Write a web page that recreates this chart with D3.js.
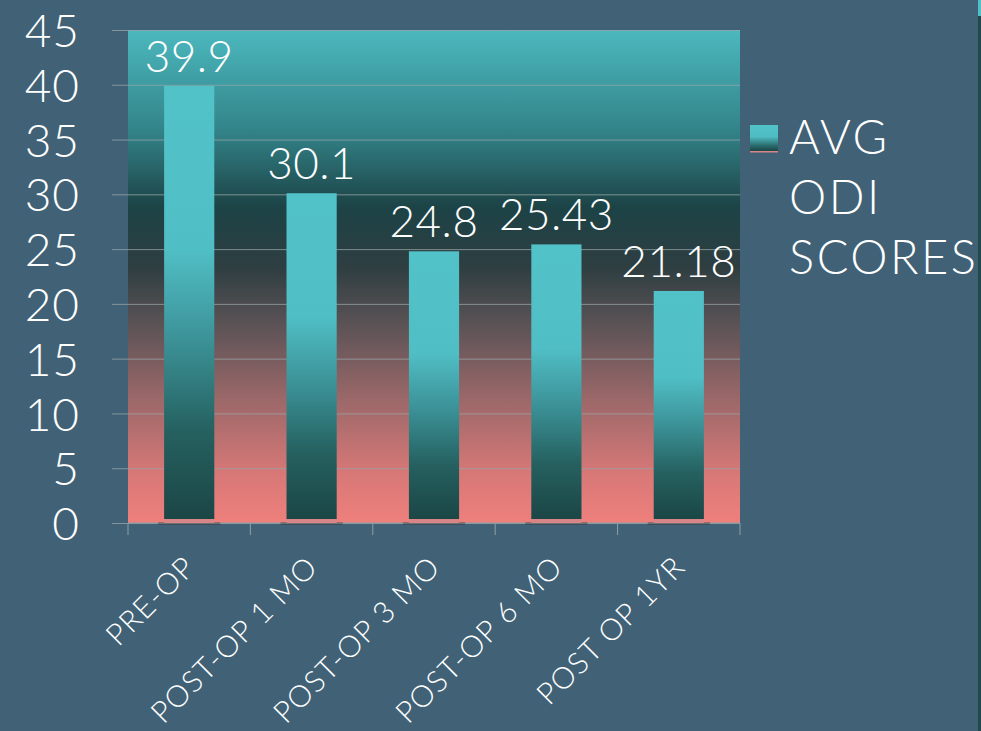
<!DOCTYPE html>
<html><head><meta charset="utf-8">
<script src="https://cdn.jsdelivr.net/npm/d3@7/dist/d3.min.js"></script>
<style>
html,body{margin:0;padding:0;background:#416276;}
svg{display:block;}
text{font-family:Lato,"Noto Sans",sans-serif;font-weight:300;fill:#ffffff;}
</style></head>
<body>
<svg id="chart" width="981" height="731"></svg>
<script>
const categories = ["PRE-OP","POST-OP 1 MO","POST-OP 3 MO","POST-OP 6 MO","POST OP 1YR"];
const values = [39.9, 30.1, 24.8, 25.43, 21.18];
const valueLabels = ["39.9","30.1","24.8","25.43","21.18"];
const yTicks = [0,5,10,15,20,25,30,35,40,45];
const seriesName = ["AVG","ODI","SCORES"];

const W = 981, H = 731;
const plot = {left:128, right:740, top:30, bottom:523};
const svg = d3.select("#chart");
const defs = svg.append("defs");

const bg = defs.append("linearGradient").attr("id","bgGrad").attr("x1",0).attr("y1",0).attr("x2",0).attr("y2",1);
[[0,"#4bb8be"],[0.2,"#33858a"],[0.36,"#1c4346"],[0.48,"#2e3e41"],[0.6,"#5c5356"],[0.75,"#9c6869"],[0.9,"#d77877"],[1,"#ef807c"]]
  .forEach(([o,c])=>bg.append("stop").attr("offset",o).attr("stop-color",c));

const bar = defs.append("linearGradient").attr("id","barGrad").attr("x1",0).attr("y1",0).attr("x2",0).attr("y2",1);
[[0,"#52c2c9"],[0.38,"#50bec5"],[0.6,"#3a8f94"],[0.8,"#25605f"],[1,"#1b4646"]]
  .forEach(([o,c])=>bar.append("stop").attr("offset",o).attr("stop-color",c));

const x = d3.scaleBand().domain(categories).range([plot.left, plot.right]).paddingInner(0.59).paddingOuter(0.295);
const y = d3.scaleLinear().domain([0,45]).range([plot.bottom, plot.top]);

svg.append("rect").attr("x",plot.left).attr("y",plot.top)
  .attr("width",plot.right-plot.left).attr("height",plot.bottom-plot.top)
  .attr("fill","url(#bgGrad)");

const yAxis = d3.axisLeft(y).tickValues(yTicks).tickSize(-(plot.right-plot.left)).tickPadding(48).tickFormat(d3.format("d"));
const gy = svg.append("g").attr("transform",`translate(${plot.left},0)`).call(yAxis);
gy.select(".domain").remove();
gy.selectAll(".tick line").attr("stroke","#9aa6a8").attr("stroke-opacity",0.75).attr("x1",-16);
gy.selectAll(".tick text").attr("font-size",46).attr("fill","#fff").attr("dy","0.36em")
  .style("font-family","Lato,'Noto Sans',sans-serif").style("font-weight",300).style("letter-spacing","1px");

const xb = d3.scaleLinear().domain([0,categories.length]).range([plot.left, plot.right]);
const gx = svg.append("g");
gx.append("line").attr("x1",plot.left).attr("x2",plot.right).attr("y1",plot.bottom).attr("y2",plot.bottom)
  .attr("stroke","#8f9ea3").attr("stroke-width",1);
gx.selectAll("line.t").data(d3.range(categories.length+1)).join("line").attr("class","t")
  .attr("x1",d=>xb(d)).attr("x2",d=>xb(d)).attr("y1",plot.bottom).attr("y2",plot.bottom+12)
  .attr("stroke","#8f9ea3").attr("stroke-width",1);

const g = svg.append("g");
const baseH = 4;
g.selectAll("rect.shadow").data(values).join("rect").attr("class","shadow")
  .attr("x",(d,i)=>x(categories[i])-6).attr("width",x.bandwidth()+12)
  .attr("y",y(0)-1).attr("height",3).attr("fill","#3a2a2c").attr("opacity",0.35);
g.selectAll("rect.bar").data(values).join("rect").attr("class","bar")
  .attr("x",(d,i)=>x(categories[i])).attr("width",x.bandwidth())
  .attr("y",d=>y(d)).attr("height",d=>y(0)-baseH-y(d))
  .attr("fill","url(#barGrad)");
g.selectAll("rect.base").data(values).join("rect").attr("class","base")
  .attr("x",(d,i)=>x(categories[i])).attr("width",x.bandwidth())
  .attr("y",y(0)-baseH).attr("height",baseH).attr("fill","#d88587");

g.selectAll("text.val").data(values).join("text").attr("class","val")
  .attr("x",(d,i)=>x(categories[i])+x.bandwidth()/2).attr("y",d=>y(d)-14)
  .attr("text-anchor","middle").attr("font-size",44).style("letter-spacing","0.5px").text((d,i)=>valueLabels[i]);

svg.selectAll("text.cat").data(categories).join("text").attr("class","cat")
  .attr("transform",d=>`translate(${x(d)+x.bandwidth()/2+8},569) rotate(-45)`)
  .attr("text-anchor","end").attr("font-size",30).style("letter-spacing","1px").text(d=>d);

const lg = defs.append("linearGradient").attr("id","legGrad").attr("x1",0).attr("y1",0).attr("x2",0).attr("y2",1);
[[0,"#52c2c9"],[0.45,"#4fbcc3"],[0.8,"#2a6a6c"],[1,"#1b4646"]].forEach(([o,c])=>lg.append("stop").attr("offset",o).attr("stop-color",c));
svg.append("rect").attr("x",750).attr("y",125).attr("width",28).attr("height",26).attr("fill","url(#legGrad)");
svg.append("rect").attr("x",750).attr("y",151).attr("width",28).attr("height",1.5).attr("fill","#d88587");
svg.selectAll("text.leg").data(seriesName).join("text").attr("class","leg")
  .attr("x",789).attr("y",(d,i)=>154+i*60).attr("font-size",47).style("letter-spacing","2.5px").text(d=>d);

svg.append("rect").attr("x",978).attr("y",0).attr("width",3).attr("height",H).attr("fill","#1f4a4e");
svg.append("rect").attr("x",978).attr("y",0).attr("width",3).attr("height",16).attr("fill","#4fc0c8");
</script>
</body></html>
